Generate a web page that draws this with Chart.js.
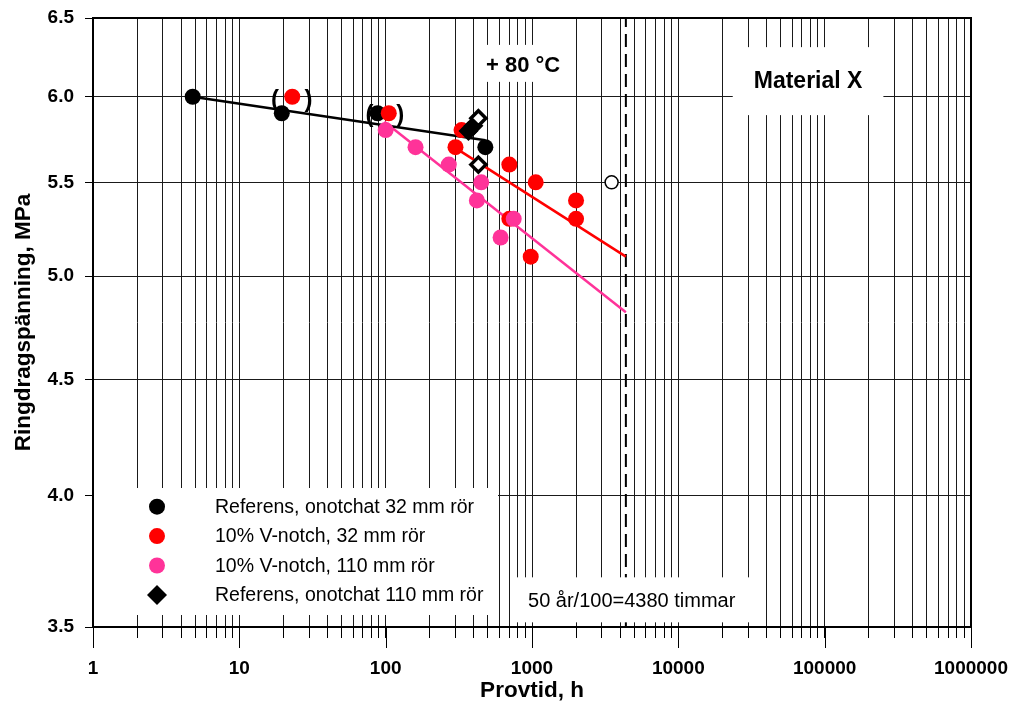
<!DOCTYPE html>
<html>
<head>
<meta charset="utf-8">
<script src="https://cdn.jsdelivr.net/npm/chart.js@4/dist/chart.umd.min.js"></script>
<style>
  body { margin: 0; background: #fff; }
  #wrap { width: 1012px; height: 702px; }
</style>
</head>
<body>
<div id="wrap"><canvas id="myChart" width="1012" height="702"></canvas></div>
<script>
const seriesNames = [
    'Referens, onotchat 32 mm rör',
    '10% V-notch, 32 mm rör',
    '10% V-notch, 110 mm rör',
    'Referens, onotchat 110 mm rör'
];

// measured points (hours, MPa)
const ref32X = [4.8, 19.5, 88, 480];
const ref32Y = [6.0, 5.9, 5.9, 5.7];
const notch32X = [23, 105, 330, 300, 700, 1060, 2000, 2000, 700, 980];
const notch32Y = [6.0, 5.9, 5.8, 5.7, 5.6, 5.5, 5.4, 5.3, 5.3, 5.1];
const notch110X = [100, 160, 270, 450, 420, 750, 610];
const notch110Y = [5.8, 5.7, 5.6, 5.5, 5.4, 5.3, 5.2];
const ref110X = [368, 398, 430, 430];
const ref110Y = [5.795, 5.825, 5.87, 5.6];
const ref110Open = [false, false, true, true];
const otherX = [3500];
const otherY = [5.5];

// trend lines, end points
const ref32LineX = [4.8, 480];
const ref32LineY = [6.0, 5.74];
const notch32LineX = [320, 4380];
const notch32LineY = [5.68, 5.10];
const notch110LineX = [98, 4380];
const notch110LineY = [5.85, 4.82];

const limitHours = 4380;

const yTicks = [3.5, 4.0, 4.5, 5.0, 5.5, 6.0, 6.5];
const xMajors = [1, 10, 100, 1000, 10000, 100000, 1000000];
const xTickLabels = ['1', '10', '100', '1000', '10000', '100000', '1000000'];

const bracketText = ['(', ')', '(', ')'];
const bracketX = [17.5, 29.7, 77.6, 126];
const bracketY = [5.98, 5.98, 5.89, 5.89];

const colors = ['#000000', '#ff0000', '#ff3399', '#000000'];

const pts = (xs, ys) => xs.map((x, i) => ({x: x, y: ys[i]}));

Chart.defaults.font.family = 'Arial, "Liberation Sans", sans-serif';
Chart.defaults.color = '#000';

const extras = {
    id: 'extras',
    afterDatasetsDraw(chart, args, opts) {
        const {ctx, chartArea: a, scales: {x, y}} = chart;
        ctx.save();

        // text boxes
        opts.notes.forEach(n => {
            ctx.font = n.font;
            const w = ctx.measureText(n.text).width;
            const cx = x.getPixelForValue(n.x);
            const cy = y.getPixelForValue(n.y);
            ctx.fillStyle = '#fff';
            ctx.fillRect(cx - w / 2 - n.padX, cy - n.padY, w + 2 * n.padX, 2 * n.padY);
            ctx.fillStyle = '#000';
            ctx.textAlign = 'center';
            ctx.textBaseline = 'middle';
            ctx.fillText(n.text, cx, cy + n.dy);
        });

        // brackets around doubtful points
        ctx.font = 'bold 24px Arial, "Liberation Sans", sans-serif';
        ctx.fillStyle = '#000';
        ctx.textAlign = 'center';
        ctx.textBaseline = 'middle';
        bracketText.forEach((t, i) => {
            ctx.fillText(t, x.getPixelForValue(bracketX[i]), y.getPixelForValue(bracketY[i]));
        });

        // legend
        const lx = a.left, ly = a.bottom - 139;
        ctx.fillStyle = '#fff';
        ctx.fillRect(lx + 1, ly, 404, 127);
        ctx.font = '19.5px Arial, "Liberation Sans", sans-serif';
        ctx.textAlign = 'left';
        seriesNames.forEach((name, i) => {
            const my = ly + 18.7 + i * 29.4;
            const mx = lx + 64;
            ctx.fillStyle = colors[i];
            ctx.beginPath();
            if (i === 3) {
                ctx.moveTo(mx - 10, my);
                ctx.lineTo(mx, my - 10);
                ctx.lineTo(mx + 10, my);
                ctx.lineTo(mx, my + 10);
                ctx.closePath();
            } else {
                ctx.arc(mx, my, 8, 0, Math.PI * 2);
            }
            ctx.fill();
            ctx.fillStyle = '#000';
            ctx.fillText(name, lx + 122, my + 1);
        });
        ctx.restore();
    },
    afterDraw(chart) {
        const {ctx, chartArea: a, scales: {x}} = chart;
        ctx.save();
        ctx.strokeStyle = '#000';
        ctx.lineWidth = 1;
        // longer tick marks at the decades
        xMajors.forEach(v => {
            const px = Math.round(x.getPixelForValue(v)) + 0.5;
            ctx.beginPath();
            ctx.moveTo(px, a.bottom);
            ctx.lineTo(px, a.bottom + 21);
            ctx.stroke();
        });
        ctx.lineWidth = 2;
        ctx.strokeRect(a.left, a.top, a.right - a.left, a.bottom - a.top);
        ctx.restore();
    }
};

const lineSet = (xs, ys, color, extra) => Object.assign({
    data: pts(xs, ys),
    showLine: true,
    borderColor: color,
    borderWidth: 2.5,
    pointRadius: 0,
    order: 10
}, extra || {});

const dotSet = (label, xs, ys, color, order) => ({
    label: label,
    data: pts(xs, ys),
    backgroundColor: color,
    borderColor: color,
    pointRadius: 8,
    pointBorderWidth: 0,
    order: order
});

new Chart(document.getElementById('myChart'), {
    type: 'scatter',
    data: {
        datasets: [
            lineSet(ref32LineX, ref32LineY, colors[0]),
            lineSet(notch32LineX, notch32LineY, colors[1]),
            lineSet(notch110LineX, notch110LineY, colors[2]),
            lineSet([limitHours, limitHours], [yTicks[0], yTicks[yTicks.length - 1]], '#000',
                {borderWidth: 2, borderDash: [13, 7]}),
            dotSet(seriesNames[0], ref32X, ref32Y, colors[0], 5),
            dotSet(seriesNames[1], notch32X, notch32Y, colors[1], 4),
            dotSet(seriesNames[2], notch110X, notch110Y, colors[2], 3),
            {
                label: seriesNames[3],
                data: pts(ref110X, ref110Y),
                pointStyle: 'rectRot',
                pointRadius: 7.5,
                pointBorderWidth: 3.5,
                pointBorderColor: '#000',
                pointBackgroundColor: ref110Open.map(o => o ? '#fff' : '#000'),
                order: 2
            },
            {
                data: pts(otherX, otherY),
                pointRadius: 6.5,
                pointBorderWidth: 1.5,
                pointBorderColor: '#000',
                pointBackgroundColor: '#fff',
                order: 1
            }
        ]
    },
    options: {
        responsive: false,
        animation: false,
        events: [],
        layout: {
            padding: {top: 18, right: 41, left: 0, bottom: 0}
        },
        plugins: {
            legend: {display: false},
            tooltip: {enabled: false},
            extras: {
                notes: [
                    {text: '+ 80 °C', x: 869, y: 6.207, dy: 3, font: 'bold 22px Arial, "Liberation Sans", sans-serif', padX: 4, padY: 18.5},
                    {text: 'Material X', x: 77000, y: 6.096, dy: 1, font: 'bold 23px Arial, "Liberation Sans", sans-serif', padX: 21, padY: 34},
                    {text: '50 år/100=4380 timmar', x: 4800, y: 3.598, dy: 2, font: '20px Arial, "Liberation Sans", sans-serif', padX: 14, padY: 22.5}
                ]
            }
        },
        scales: {
            x: {
                type: 'logarithmic',
                min: 1,
                max: 1000000,
                afterBuildTicks: (scale) => {
                    const t = [];
                    for (let e = 0; e < 6; e++) {
                        for (let k = 1; k < 10; k++) t.push({value: k * Math.pow(10, e)});
                    }
                    t.push({value: 1000000});
                    scale.ticks = t;
                },
                afterFit: (scale) => {
                    scale.height = 75;
                    scale.paddingLeft = 0;
                    scale.paddingRight = 0;
                },
                ticks: {
                    autoSkip: false,
                    maxRotation: 0,
                    minRotation: 0,
                    padding: 19,
                    font: {size: 19, weight: 'bold'},
                    color: '#000',
                    callback: (v) => {
                        const i = xMajors.indexOf(v);
                        return i < 0 ? '' : xTickLabels[i];
                    }
                },
                grid: {color: '#1a1a1a', lineWidth: 1, tickLength: 11, tickColor: '#000'},
                border: {display: false},
                title: {
                    display: true,
                    text: 'Provtid, h',
                    color: '#000',
                    font: {size: 22.5, weight: 'bold', lineHeight: 1},
                    padding: {top: 0, bottom: 0}
                }
            },
            y: {
                type: 'logarithmic',
                min: 3.5,
                max: 6.5,
                afterBuildTicks: (scale) => {
                    scale.ticks = yTicks.map(v => ({value: v}));
                },
                afterFit: (scale) => {
                    scale.width = 93;
                    scale.paddingTop = 0;
                    scale.paddingBottom = 0;
                },
                ticks: {
                    padding: 11,
                    font: {size: 19, weight: 'bold'},
                    color: '#000',
                    callback: (v) => Number(v).toFixed(1)
                },
                grid: {color: '#1a1a1a', lineWidth: 1, tickLength: 8, tickColor: '#000'},
                border: {display: false},
                title: {
                    display: true,
                    text: 'Ringdragspänning, MPa',
                    color: '#000',
                    font: {size: 22.5, weight: 'bold', lineHeight: 1},
                    padding: {top: 13, bottom: 0}
                }
            }
        }
    },
    plugins: [extras]
});
</script>
</body>
</html>
